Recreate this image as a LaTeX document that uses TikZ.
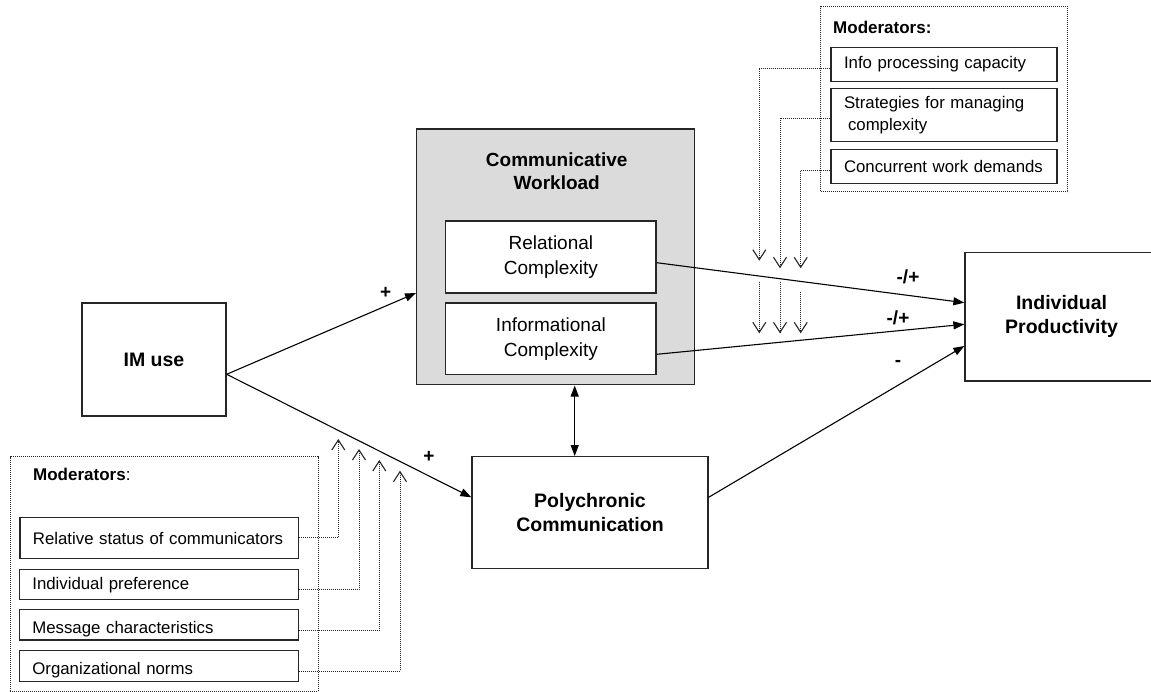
\documentclass[tikz,border=0pt]{standalone}
\usepackage{fontspec}
\setmainfont{Liberation Sans}
\usetikzlibrary{arrows.meta}

\begin{document}
\begin{tikzpicture}[x=1pt,y=-1pt]
			\tikzstyle{cbox}=[rectangle,draw=black!85,line width=1.3pt,inner sep=0pt,align=center,font=\fontsize{19.5}{23.5}\selectfont\bfseries]
			\tikzstyle{sbox}=[rectangle,draw=black!85,line width=1.3pt,fill=white,inner sep=0pt,align=center,font=\fontsize{19}{25.5}\selectfont]
			\tikzstyle{mbox}=[rectangle,draw=black!85,line width=1.1pt,inner xsep=13pt,inner ysep=0pt,align=left,font=\fontsize{16.8}{21.5}\selectfont]
			\tikzstyle{mframe}=[rectangle,draw=black!85,line width=0.9pt,dash pattern=on 1pt off 1pt,inner sep=0pt]
			\tikzstyle{arr}=[line width=1.1pt,-{Triangle[length=11pt,width=8pt]}]
			\tikzstyle{darr}=[line width=1.1pt,{Triangle[length=11pt,width=8pt]}-{Triangle[length=11pt,width=8pt]}]
			\tikzstyle{marr}=[draw=black!85,line width=0.9pt,dash pattern=on 1pt off 1pt,-{Straight Barb[length=10pt,width=13pt,line width=1.1pt]}]
			\tikzstyle{sign}=[font=\fontsize{19}{23}\selectfont\bfseries,inner sep=0pt]
			
			\useasboundingbox (0,0) rectangle (1151,692);
			
			% main constructs
			\node[cbox,minimum width=144pt,minimum height=113pt] (im) at (154,359.5) {IM use};
			\node[cbox,fill=black!14,minimum width=277.6pt,minimum height=255.7pt] (cw) at (555.5,257) {};
			\node[font=\fontsize{19}{23}\selectfont\bfseries,align=center] (cwtitle) at (556.7,171) {Communicative\\Workload};
			\node[sbox,minimum width=210.3pt,minimum height=72pt] (rel) at (550.9,257) {Relational\\Complexity};
			\node[sbox,minimum width=210.3pt,minimum height=71.7pt] (inf) at (550.9,338.9) {Informational\\Complexity};
			\node[cbox,minimum width=236pt,minimum height=111.6pt] (poly) at (590,512.5) {Polychronic\\Communication};
			\node[cbox,minimum width=193pt,minimum height=128.7pt] (ip) at (1061.5,316.7) {Individual\\Productivity};
			
			% moderators, top
			\node[mframe,minimum width=247pt,minimum height=185pt] (tframe) at (944.2,99.2) {};
			\node[anchor=west,inner sep=0pt,font=\fontsize{17}{21}\selectfont\bfseries] (ttitle) at (833,27) {Moderators:};
			\node[mbox,minimum width=226pt,text width=200pt,minimum height=33.6pt] (ipc) at (944,64.5) {\mbox{Info processing capacity}};
			\node[mbox,minimum width=226pt,text width=200pt,minimum height=53.4pt] (smc) at (944,115) {\mbox{Strategies for managing}\\\hspace*{4pt}complexity};
			\node[mbox,minimum width=226pt,text width=200pt,minimum height=34pt] (cwd) at (944,166.7) {\mbox{Concurrent work demands}};
			
			% moderators, bottom
			\node[mframe,minimum width=308pt,minimum height=234.3pt] (bframe) at (164,573.8) {};
			\node[anchor=west,inner sep=0pt,font=\fontsize{17}{21}\selectfont] (btitle) at (33,474) {\textbf{Moderators}:};
			\node[mbox,minimum width=278.7pt,text width=252.7pt,minimum height=41pt] (rsc) at (159.3,538.2) {\mbox{Relative status of communicators}};
			\node[mbox,minimum width=278.7pt,text width=252.7pt,minimum height=30.3pt] (ipf) at (158.7,584.2) {\rule{0pt}{15pt}\mbox{Individual preference}};
			\node[mbox,minimum width=278.7pt,text width=252.7pt,minimum height=30.3pt] (msc) at (158.7,624.8) {\rule{0pt}{21pt}\mbox{Message characteristics}};
			\node[mbox,minimum width=278.7pt,text width=252.7pt,minimum height=31pt] (orn) at (158.7,666.2) {\rule{0pt}{21pt}\mbox{Organizational norms}};
			
			% paths
			\draw[arr] ([yshift=-14.8pt]im.east) -- ([yshift=-36pt]cw.west);
			\draw[arr] ([yshift=-14.8pt]im.east) -- ([yshift=15.2pt]poly.west);
			\draw[darr] ([xshift=-15.3pt]poly.north) -- ([xshift=-15.3pt]poly.north |- cw.south);
			\draw[arr] ([yshift=-5.7pt]rel.east) -- ([yshift=14pt]ip.west);
			\draw[arr] ([yshift=-15.4pt]inf.east) -- ([yshift=-7.6pt]ip.west);
			\draw[arr] ([yshift=15.2pt]poly.east) -- ([yshift=-29.3pt]ip.west);
			
			\node[sign] (p1) at (385.7,293) {+};
			\node[sign] (p2) at (429,457) {+};
			\node[sign] (s1) at (908,276.7) {-/+};
			\node[sign] (s2) at (898,318) {-/+};
			\node[sign] (s3) at (898,363.3) {-};
			
			% moderator arrows, top
			\coordinate (t1) at (759.3,260.7);
			\coordinate (t2) at (780,268.3);
			\coordinate (t3) at (800.7,268.3);
			\coordinate (u1) at (759.3,281.7);
			\coordinate (u2) at (780,281.7);
			\coordinate (u3) at (800.7,291.7);
			\draw[marr] ([yshift=-3.8pt]ipc.west) -| (t1);
			\draw[marr] ([yshift=-3.3pt]smc.west) -| (t2);
			\draw[marr] ([yshift=-4pt]cwd.west) -| (t3);
			\draw[marr] (u1) -- ++(0,51.6);
			\draw[marr] (u2) -- ++(0,51.6);
			\draw[marr] (u3) -- ++(0,41.6);
			
			% moderator arrows, bottom
			\coordinate (b1) at (338.3,439);
			\coordinate (b2) at (359,449);
			\coordinate (b3) at (379.3,460);
			\coordinate (b4) at (400,470.7);
			\draw[marr] ([yshift=0.5pt]rsc.east) -| (b1);
			\draw[marr] ([yshift=-5.5pt]ipf.east) -| (b2);
			\draw[marr] ([yshift=-5.2pt]msc.east) -| (b3);
			\draw[marr] ([yshift=-4.8pt]orn.east) -| (b4);
			
			;\end{tikzpicture}
\end{document}
